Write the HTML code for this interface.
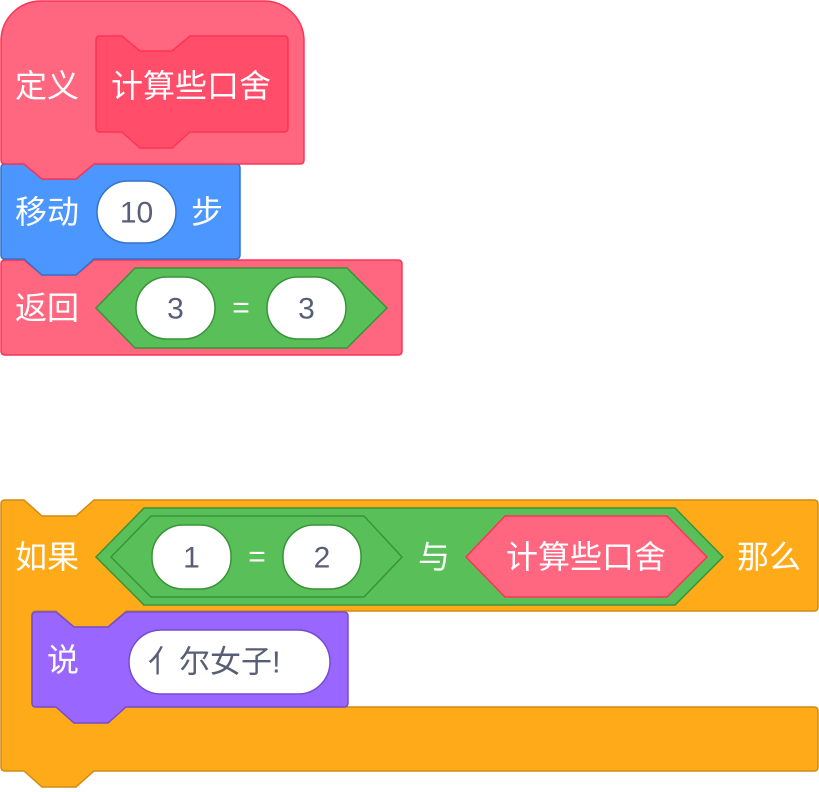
<!DOCTYPE html>
<html><head><meta charset="utf-8"><style>
html,body{margin:0;padding:0;background:#fff;}
svg{display:block;}
.w{fill:#fff;font-family:"Liberation Sans","Noto Sans CJK SC",sans-serif;font-size:32px;dominant-baseline:central;}
.g{fill:#575e75;font-family:"Liberation Sans","Noto Sans CJK SC",sans-serif;font-size:30px;dominant-baseline:central;text-anchor:middle;}
</style></head><body>
<svg width="819" height="792" viewBox="0 0 819 792" xmlns="http://www.w3.org/2000/svg">
<path d="M1,264 Q1,260 5,260 H24 L42,275 H76 L94,260 H398 Q402,260 402,264 V351 Q402,355 398,355 H5 Q1,355 1,351 Z" fill="#ff6680" stroke="#ff3355" stroke-width="1.5"/>
<path d="M1,168 Q1,164 5,164 H24 L42,179 H76 L94,164 H236 Q240,164 240,168 V255 Q240,259 236,259 H94 L76,275 H42 L24,259 H5 Q1,259 1,255 Z" fill="#4c97ff" stroke="#3373cc" stroke-width="1.5"/>
<path d="M1,160 V40 A40,40 0 0 1 41,1 H264 A40,40 0 0 1 304,40 V160 Q304,164 300,164 H94 L76,179 H42 L24,164 H5 Q1,164 1,160 Z" fill="#ff6680" stroke="#ff3355" stroke-width="1.5"/>
<path d="M96,40 Q96,36 100,36 H122 L140,51 H172 L190,36 H284 Q288,36 288,40 V128 Q288,132 284,132 H190 L172,148 H140 L122,132 H100 Q96,132 96,128 Z" fill="#ff4d6a" stroke="#ff3355" stroke-width="1.5"/>
<text class="w" x="15" y="86">定义</text>
<text class="w" x="111" y="86">计算些口舍</text>
<text class="w" x="15" y="212">移动</text>
<rect x="97" y="181" width="79" height="62" rx="31" fill="#fff" stroke="#3373cc" stroke-width="1.5"/>
<text class="g" x="136.5" y="213">10</text>
<text class="w" x="191" y="212">步</text>
<text class="w" x="15" y="308">返回</text>
<polygon points="96,308 135,268 347,268 387,308 347,348 135,348" fill="#59c059" stroke="#389438" stroke-width="1.5"/>
<rect x="136" y="277" width="79" height="62" rx="31" fill="#fff" stroke="#389438" stroke-width="1.5"/>
<text class="g" x="175.5" y="309">3</text>
<text class="w" x="241" y="308" text-anchor="middle" style="font-size:30px">=</text>
<rect x="267" y="277" width="79" height="62" rx="31" fill="#fff" stroke="#389438" stroke-width="1.5"/>
<text class="g" x="306.5" y="309">3</text>
<path d="M1,504 Q1,500 5,500 H24 L42,516 H76 L94,500 H814 Q818,500 818,504 V607 Q818,611 814,611 H126 L108,627 H74 L56,611 H36 Q32,611 32,615 V703 Q32,707 36,707 H814 Q818,707 818,711 V767 Q818,771 814,771 H94 L76,787 H42 L24,771 H5 Q1,771 1,767 Z" fill="#ffab19" stroke="#cf8b17" stroke-width="1.5"/>
<path d="M32,616 Q32,612 36,612 H56 L74,627 H108 L126,612 H344 Q348,612 348,616 V703 Q348,707 344,707 H126 L108,723 H74 L56,707 H36 Q32,707 32,703 Z" fill="#9966ff" stroke="#774dcb" stroke-width="1.5"/>
<text class="w" x="15" y="557">如果</text>
<polygon points="96,557 144,508 675,508 723,557 675,605 144,605" fill="#59c059" stroke="#389438" stroke-width="1.5"/>
<polygon points="111,557 151,516 364,516 402,557 364,597 151,597" fill="#59c059" stroke="#389438" stroke-width="1.5"/>
<rect x="152" y="525" width="79" height="64" rx="31" fill="#fff" stroke="#389438" stroke-width="1.5"/>
<text class="g" x="191.5" y="558">1</text>
<text class="w" x="257" y="557" text-anchor="middle" style="font-size:30px">=</text>
<rect x="283" y="525" width="78" height="64" rx="31" fill="#fff" stroke="#389438" stroke-width="1.5"/>
<text class="g" x="322" y="558">2</text>
<text class="w" x="418" y="557">与</text>
<polygon points="466,557 505,516 667,516 707,557 667,597 505,597" fill="#ff6680" stroke="#ff3355" stroke-width="1.5"/>
<text class="w" x="506" y="557">计算些口舍</text>
<text class="w" x="737" y="557">那么</text>
<text class="w" x="47" y="660">说</text>
<rect x="129" y="630" width="201" height="64" rx="32" fill="#fff" stroke="#774dcb" stroke-width="1.5"/>
<text class="g" x="148" y="662" style="text-anchor:start;font-size:31px">亻尔女子!</text>
</svg>
</body></html>
